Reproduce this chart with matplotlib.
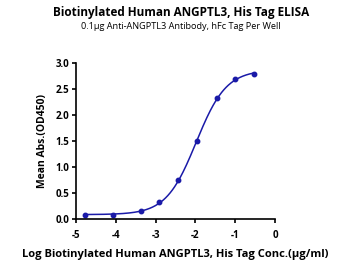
import numpy as np
import matplotlib
matplotlib.use("Agg")
import matplotlib.pyplot as plt

plt.rcParams['font.family'] = ['Open Sans', 'DejaVu Sans']

log_conc = [-4.77, -4.08, -3.38, -2.91, -2.43, -1.95, -1.47, -1.00, -0.52]
od450 = [0.077, 0.08, 0.15, 0.33, 0.75, 1.49, 2.33, 2.69, 2.78]
xticks = [-5, -4, -3, -2, -1, 0]
yticks = [0.0, 0.5, 1.0, 1.5, 2.0, 2.5, 3.0]

x = np.array(log_conc)
y = np.array(od450)

def f4(p, xx):
    b, t, c, h = p
    return b + (t - b) / (1 + 10 ** ((c - xx) * h))

# simple Levenberg-Marquardt fit of 4PL
p = np.array([0.07, 2.85, -2.0, 1.0])
lam = 1e-2
for _ in range(300):
    r = y - f4(p, x)
    J = np.zeros((len(x), 4))
    for i in range(4):
        dp = np.zeros(4); dp[i] = 1e-6
        J[:, i] = (f4(p + dp, x) - f4(p - dp, x)) / 2e-6
    A = J.T @ J + lam * np.eye(4)
    step = np.linalg.solve(A, J.T @ r)
    pn = p + step
    if np.sum((y - f4(pn, x)) ** 2) < np.sum(r ** 2):
        p = pn; lam *= 0.5
    else:
        lam *= 4

xs = np.linspace(x.min(), x.max(), 300)

fig = plt.figure(figsize=(3.62, 2.71), dpi=100)
ax = fig.add_axes([0.21, 0.192, 0.55, 0.576])
col = '#1a1aa8'
ax.plot(xs, f4(p, xs), color=col, lw=1.1)
ax.plot(x, y, 'o', color=col, ms=3.2)
ax.set_xlim(-5, 0)
ax.set_ylim(0, 3.0)
ax.set_xticks(xticks)
ax.set_yticks(yticks)
ax.set_xticklabels([str(v) for v in xticks], fontsize=7, fontweight='bold')
ax.set_yticklabels([f"{v:.1f}" for v in yticks], fontsize=7, fontweight='bold')
for s in ['top', 'right']:
    ax.spines[s].set_visible(False)
for s in ['left', 'bottom']:
    ax.spines[s].set_linewidth(1.2)
ax.tick_params(width=1.2, length=3)
ax.tick_params(axis='x', pad=5)
ax.tick_params(axis='y', pad=2)
ax.set_xlabel('Log Biotinylated Human ANGPTL3, His Tag Conc.(µg/ml)', fontsize=8, fontweight='bold', labelpad=6)
ax.set_ylabel('Mean Abs.(OD450)', fontsize=7.5, fontweight='bold', labelpad=5)
fig.text(0.5, 0.955, 'Biotinylated Human ANGPTL3, His Tag ELISA', ha='center', va='center', fontsize=8.5, fontweight='bold')
fig.text(0.5, 0.903, '0.1µg Anti-ANGPTL3 Antibody, hFc Tag Per Well', ha='center', va='center', fontsize=6.6)
fig.savefig('out.png', dpi=100)
